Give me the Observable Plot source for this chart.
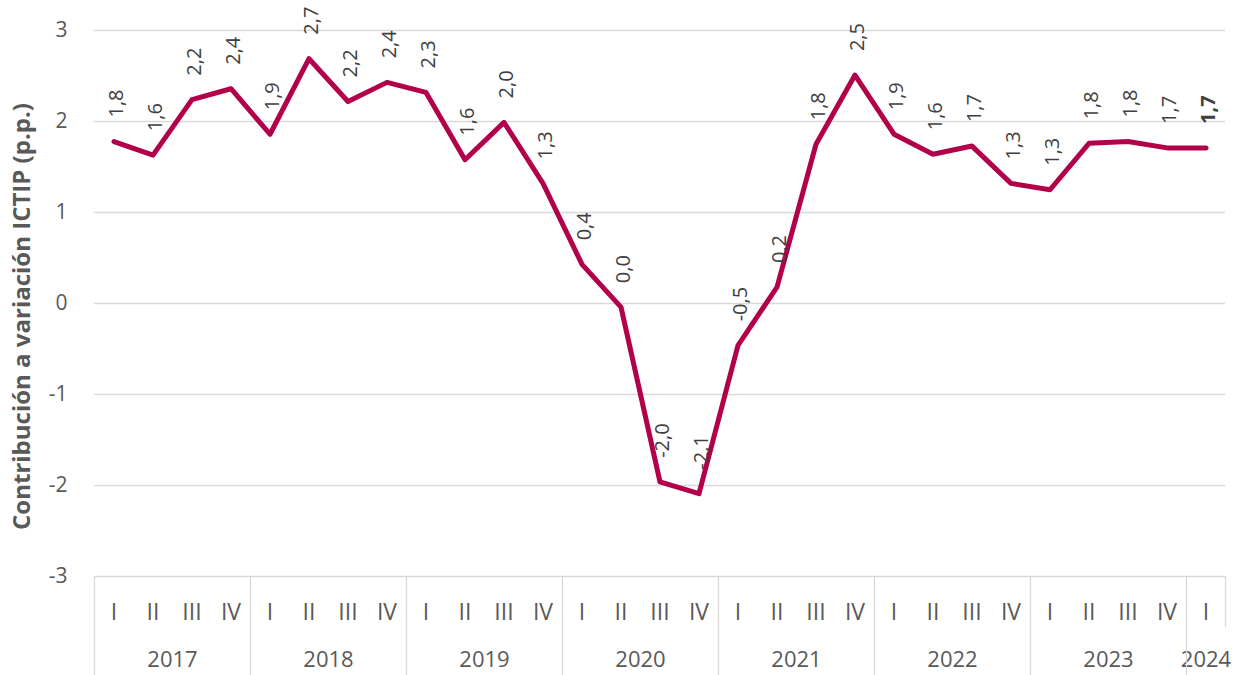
<!DOCTYPE html>
<html>
<head>
<meta charset="utf-8">
<script src="https://cdn.jsdelivr.net/npm/d3@7"></script>
<script src="https://cdn.jsdelivr.net/npm/@observablehq/plot@0.6"></script>
<style>
  html, body { margin: 0; padding: 0; background: #fff; }
  #chart svg { display: block; }
</style>
</head>
<body>
<div id="chart"></div>
<script>
const quarters = ["I","II","III","IV","I","II","III","IV","I","II","III","IV","I","II","III","IV","I","II","III","IV","I","II","III","IV","I","II","III","IV","I"];
const years = ["2017","2018","2019","2020","2021","2022","2023","2024"];
const yearCenters = [1.5, 5.5, 9.5, 13.5, 17.5, 21.5, 25.5, 28];
const yearBounds = [-0.5, 3.5, 7.5, 11.5, 15.5, 19.5, 23.5, 27.5];
const lastBound = [28.5];
const values = [1.78,1.63,2.24,2.36,1.86,2.69,2.22,2.43,2.32,1.58,1.99,1.32,0.43,-0.04,-1.96,-2.09,-0.46,0.18,1.75,2.51,1.86,1.64,1.73,1.32,1.25,1.76,1.78,1.71,1.71];
const labels = ["1,8","1,6","2,2","2,4","1,9","2,7","2,2","2,4","2,3","1,6","2,0","1,3","0,4","0,0","-2,0","-2,1","-0,5","0,2","1,8","2,5","1,9","1,6","1,7","1,3","1,3","1,8","1,8","1,7","1,7"];
const yTicks = [-3,-2,-1,0,1,2,3];
const yTitle = "Contribución a variación ICTIP (p.p.)";

const data = values.map((v, i) => ({i, v, label: labels[i], q: quarters[i]}));
const last = data.length - 1;

const font = "Open Sans, Noto Sans, sans-serif";
const gray = "#595959";

const chart = Plot.plot({
  width: 1233,
  height: 675,
  marginTop: 30,
  marginLeft: 94,
  marginRight: 8,
  marginBottom: 99,
  style: {fontFamily: font, background: "#fff", overflow: "visible"},
  x: {domain: [-0.5, data.length - 0.5], axis: null},
  y: {domain: [-3, 3], axis: null},
  marks: [
    Plot.gridY(yTicks, {stroke: "#d9d9d9", strokeOpacity: 1, strokeWidth: 1.3}),
    Plot.axisY({ticks: yTicks, tickSize: 0, tickPadding: 27, fontSize: 21, color: gray, label: null,
      tickFormat: d => String(d).replace("−", "-")}),
    Plot.axisX({ticks: data.map(d => d.i), tickFormat: i => quarters[i], tickSize: 0, tickPadding: 27,
      fontSize: 23, color: gray, label: null}),
    Plot.axisX({ticks: yearCenters, tickFormat: (d, k) => years[k], tickSize: 0, tickPadding: 75,
      fontSize: 22, color: gray, label: null}),
    Plot.axisX({ticks: yearBounds, tickFormat: () => "", tickSize: 99, stroke: "#d9d9d9", strokeWidth: 1.3, label: null}),
    Plot.axisX({ticks: lastBound, tickFormat: () => "", tickSize: 51, stroke: "#d9d9d9", strokeWidth: 1.3, label: null}),
    Plot.line(data, {x: "i", y: "v", stroke: "#B3004A", strokeWidth: 5, strokeLinejoin: "round", strokeLinecap: "round"}),
    Plot.text(data.filter(d => d.i !== last), {x: "i", y: "v", text: "label", rotate: -90, textAnchor: "start",
      lineAnchor: "middle", dy: -24, dx: 3, fontSize: 20, fill: "#404040"}),
    Plot.text(data.filter(d => d.i === last), {x: "i", y: "v", text: "label", rotate: -90, textAnchor: "start",
      lineAnchor: "middle", dy: -24, dx: 3, fontSize: 20, fontWeight: "bold", fill: "#404040"}),
    Plot.text([yTitle], {frameAnchor: "left", rotate: -90, dx: -72, dy: 13, fontSize: 24, fontWeight: "bold",
      fill: gray, textAnchor: "middle", lineAnchor: "middle"})
  ]
});
document.getElementById("chart").appendChild(chart);
</script>
</body>
</html>
